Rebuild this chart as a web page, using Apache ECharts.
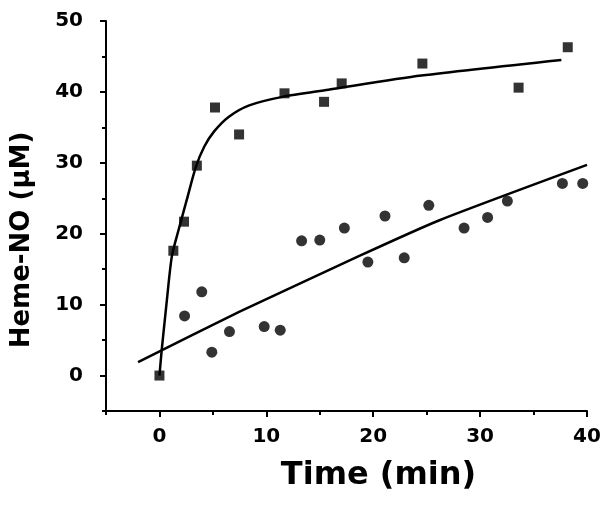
<!DOCTYPE html>
<html>
<head>
<meta charset="utf-8">
<script src="https://cdn.jsdelivr.net/npm/echarts@6/dist/echarts.min.js"></script>
<style>
  html, body { margin: 0; padding: 0; background: #fff; }
  #chart { width: 612px; height: 506px; }
</style>
</head>
<body>
<div id="chart"></div>
<script>
// squares: fast rise
var squareX = [0, 1.3, 2.3, 3.5, 5.2, 7.45, 11.7, 15.4, 17.05, 24.6, 33.6, 38.2];
var squareY = [0, 17.6, 21.7, 29.6, 37.8, 34.0, 39.8, 38.6, 41.2, 44.0, 40.6, 46.3];

// circles: slow rise
var circleX = [2.35, 3.96, 4.9, 6.55, 9.8, 11.3, 13.3, 15.0, 17.3, 19.5, 21.1, 22.9, 25.2, 28.5, 30.7, 32.55, 37.7, 39.6];
var circleY = [8.4, 11.8, 3.3, 6.2, 6.9, 6.4, 19.0, 19.1, 20.8, 16.0, 22.5, 16.6, 24.0, 20.8, 22.3, 24.6, 27.1, 27.1];

// fitted curves
var fit1X = [0, 0.2, 0.7, 1.16, 1.8, 2.56, 3.4, 4.2, 5.1, 6.5, 8.4, 11.5, 15.8, 24.5, 37.6];
var fit1Y = [0, 3.4, 10.7, 16.8, 20.6, 24.8, 29.4, 32.3, 34.4, 36.5, 38.1, 39.3, 40.3, 42.3, 44.5];
var fit2X = [-2, 7.5, 18.75, 26.2, 40];
var fit2Y = [1.9, 9.0, 16.9, 21.9, 29.7];

// ticks
var xMajor = [0, 10, 20, 30, 40];
var xMinor = [-5, 5, 15, 25, 35];
var yMajor = [0, 10, 20, 30, 40, 50];
var yMinor = [-5, 5, 15, 25, 35, 45];

const pairs = (xs, ys) => xs.map((x, i) => [x, ys[i]])

var font = 'DejaVu Sans'

const mainAxis = (ticks, margin, extra) => Object.assign({
  type: 'value',
  splitLine: { show: false },
  axisLine: { show: true, onZero: false, lineStyle: { color: '#000', width: 2 } },
  axisTick: { show: true, inside: false, length: 6, customValues: ticks, lineStyle: { color: '#000', width: 2 } },
  axisLabel: { customValues: ticks, margin: margin, color: '#000', fontFamily: font, fontWeight: 'bold', fontSize: 20 }
}, extra)

const minorAxis = (ticks, extra) => Object.assign({
  type: 'value',
  splitLine: { show: false },
  axisLine: { show: false, onZero: false },
  axisTick: { show: true, inside: false, length: 4, customValues: ticks, lineStyle: { color: '#000', width: 2 } },
  axisLabel: { show: false }
}, extra)

var option = {
  animation: false,
  grid: { left: 106, right: 25, top: 21, bottom: 95 },
  xAxis: [
    mainAxis(xMajor, 16, {
      min: -5, max: 40, position: 'bottom',
      name: 'Time (min)', nameLocation: 'middle', nameGap: 49,
      nameTextStyle: { color: '#000', fontFamily: font, fontWeight: 'bold', fontSize: 32, padding: [0, 0, 0, 64] }
    }),
    minorAxis(xMinor, { min: -5, max: 40, position: 'bottom' })
  ],
  yAxis: [
    mainAxis(yMajor, 23, {
      min: -5, max: 50, position: 'left',
      name: 'Heme-NO (μM)', nameLocation: 'middle', nameGap: 71,
      nameTextStyle: { color: '#000', fontFamily: font, fontWeight: 'bold', fontSize: 26, padding: [0, 48, 0, 0] }
    }),
    minorAxis(yMinor, { min: -5, max: 50, position: 'left' })
  ],
  series: [
    {
      type: 'line', data: pairs(fit1X, fit1Y), smooth: 0.25, showSymbol: false,
      lineStyle: { color: '#000', width: 2.5 }
    },
    {
      type: 'line', data: pairs(fit2X, fit2Y), smooth: 0.2, showSymbol: false,
      lineStyle: { color: '#000', width: 2.5 }
    },
    {
      type: 'scatter', data: pairs(squareX, squareY), symbol: 'rect', symbolSize: 10,
      itemStyle: { color: '#000' }
    },
    {
      type: 'scatter', data: pairs(circleX, circleY), symbol: 'circle', symbolSize: 11,
      itemStyle: { color: '#000' }
    }
  ]
};

const chart = echarts.init(document.getElementById('chart'))
chart.setOption(option)
</script>
</body>
</html>
